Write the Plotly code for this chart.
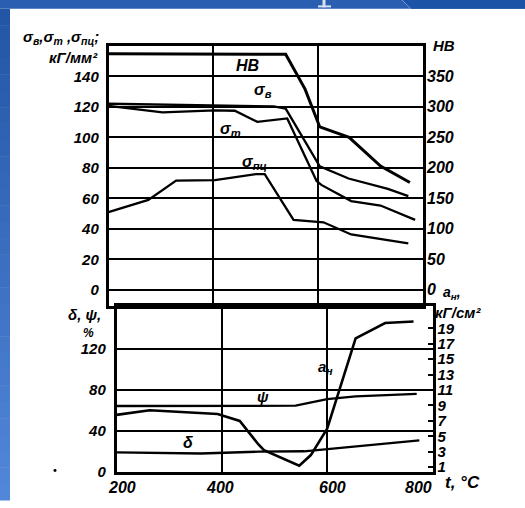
import plotly.graph_objects as go

W, H = 525, 508

# ---------------- data ----------------
# upper panel: strength (kG/mm^2) and hardness HB vs tempering temperature
hb_t = [200, 538, 575, 603, 659, 719, 775]
hb_v = [387, 386, 329, 267, 250, 203, 176]

sb_t = [200, 400, 515, 538, 603, 658, 733, 772]
sb_v = [122, 121, 120.3, 118.8, 81, 73, 66.2, 61.4]

st_t = [200, 303, 403, 441, 484, 541, 597, 606, 663, 719, 785]
st_v = [120.6, 116.3, 117.7, 117.4, 110.1, 112.4, 71.4, 68.8, 58.2, 55.3, 45.9]

spc_t = [200, 276, 329, 403, 482, 498, 553, 610, 663, 772]
spc_v = [51, 59, 71.6, 71.9, 75.9, 75.9, 45.9, 44.3, 36.3, 30.5]

# lower panel: elongation, reduction of area (%) and impact strength a_n (kG/cm^2)
psi_t = [200, 392, 540, 600, 654, 770]
psi_v = [64.4, 64.4, 64.7, 71.2, 73.8, 76.2]

delta_t = [200, 360, 470, 556, 775]
delta_v = [19.2, 18.0, 19.8, 20.2, 30.9]

an_t = [200, 263, 392, 434, 470, 480, 547, 569, 600, 654, 710, 764]
an_v = [7.78, 8.38, 7.9, 6.99, 3.9, 3.2, 1.17, 2.56, 5.99, 17.7, 19.7, 19.9]

x_ticks = [200, 400, 600, 800]
sigma_ticks = [0, 20, 40, 60, 80, 100, 120, 140]
hb_ticks = [0, 50, 100, 150, 200, 250, 300, 350]
pct_ticks = [0, 40, 80, 120]
an_ticks = [1, 3, 5, 7, 9, 11, 13, 15, 17, 19]


def px(x):
    return x / W


def py(y):
    return 1 - y / H


FONT = "Liberation Sans"
ink = "black"
line = dict(color=ink, width=2.3)

fig = go.Figure()
fig.add_trace(go.Scatter(x=hb_t, y=hb_v, xaxis="x", yaxis="y2", mode="lines",
                         line=dict(color=ink, width=3.0)))
fig.add_trace(go.Scatter(x=sb_t, y=sb_v, xaxis="x", yaxis="y", mode="lines", line=line))
fig.add_trace(go.Scatter(x=st_t, y=st_v, xaxis="x", yaxis="y", mode="lines", line=line))
fig.add_trace(go.Scatter(x=spc_t, y=spc_v, xaxis="x", yaxis="y", mode="lines", line=line))
fig.add_trace(go.Scatter(x=psi_t, y=psi_v, xaxis="x2", yaxis="y3", mode="lines", line=line))
fig.add_trace(go.Scatter(x=delta_t, y=delta_v, xaxis="x2", yaxis="y3", mode="lines", line=line))
fig.add_trace(go.Scatter(x=an_t, y=an_v, xaxis="x2", yaxis="y4", mode="lines",
                         line=dict(color=ink, width=2.6)))


def tf(size, weight="bold"):
    return dict(family=FONT, size=size, color=ink, style="italic", weight=weight)


common_x = dict(range=[200, 800], tickvals=[400, 600], showticklabels=False, ticks="",
                showgrid=True, gridcolor=ink, gridwidth=1.6, zeroline=False,
                showline=True, mirror=True, linecolor=ink, linewidth=2.5)

top_bottom_px = 310.5
top_top_px = 46.5
sig_lo = -(top_bottom_px - 294.5) / 1.55

fig.update_layout(
    width=W, height=H, margin=dict(l=0, r=0, t=0, b=0),
    paper_bgcolor="white", plot_bgcolor="rgba(0,0,0,0)", showlegend=False,
    xaxis=dict(domain=[px(108.5), px(423)], anchor="y", **common_x),
    yaxis=dict(domain=[py(top_bottom_px), py(top_top_px)], anchor="x",
               range=[sig_lo, 160], tickvals=sigma_ticks, tickfont=tf(15),
               ticks="", ticklabelstandoff=4,
               showgrid=True, gridcolor=ink, gridwidth=1.6, zeroline=False,
               showline=True, mirror=True, linecolor=ink, linewidth=2.5),
    yaxis2=dict(overlaying="y", side="right", anchor="x",
                range=[sig_lo * 2.5, 400], tickvals=hb_ticks, tickfont=tf(16),
                ticks="", ticklabelstandoff=3, showgrid=False, zeroline=False,
                showline=False),
    xaxis2=dict(domain=[px(116.5), px(432.5)], anchor="y3", **common_x),
    yaxis3=dict(domain=[py(479.5), py(311)], anchor="x2",
                range=[0, 162], tickvals=pct_ticks, tickfont=tf(15),
                ticks="", ticklabelstandoff=5,
                showgrid=True, gridcolor=ink, gridwidth=1.6, zeroline=False,
                showline=True, mirror=True, linecolor=ink, linewidth=2.5),
    yaxis4=dict(overlaying="y3", side="right", anchor="x2",
                range=[0.367, 21.9], tickvals=an_ticks, tickfont=tf(15),
                ticks="inside", ticklen=5, tickwidth=1.6, tickcolor=ink,
                ticklabelstandoff=4, showgrid=False, zeroline=False, showline=False),
)

# x tick labels (placed under the lower panel's temperature scale)
x_shift = {200: 5, 400: -2, 600: 5, 800: -14}
for t in x_ticks:
    fig.add_annotation(x=t, y=0, xref="x2", yref="y3", text=str(t), showarrow=False,
                       yshift=-16, xshift=x_shift[t], font=tf(16))

texts = [
    ("σ<sub>в</sub>,σ<sub>т</sub> ,σ<sub>пц</sub>;", 101, 38, "right", 15),
    ("кГ/мм²", 100, 58, "right", 15),
    ("HB", 431, 46, "left", 15),
    ("δ, ψ,", 103, 320, "right", 15),
    ("%", 96, 338, "right", 12),
    ("a<sub>н</sub>,", 441, 298, "left", 14),
    ("кГ/см²", 433, 317, "left", 15),
    ("t, °C", 443, 490, "left", 17),
    ("HB", 247, 67, "center", 16),
    ("σ<sub>в</sub>", 263, 92, "center", 16),
    ("σ<sub>т</sub>", 230, 132, "center", 16),
    ("σ<sub>пц</sub>", 254, 165, "center", 16),
    ("ψ", 263, 403, "center", 15),
    ("δ", 188, 450, "center", 16),
    ("a<sub>н</sub>", 325, 373, "center", 15),
]
for txt, x, y, anc, sz in texts:
    fig.add_annotation(x=px(x), y=py(y), xref="paper", yref="paper", text=txt,
                       showarrow=False, xanchor=anc, yanchor="middle", font=tf(sz))

# slide background strips (blue frame of the scanned slide)
shapes = []
shapes.append(dict(type="rect", xref="paper", yref="paper", x0=0, x1=1, y0=py(9), y1=1,
                   fillcolor="rgb(42,94,176)", line=dict(width=0), layer="above"))
shapes.append(dict(type="path", xref="paper", yref="paper",
                   path=f"M {px(402)},1 L 1,1 L 1,{py(9)} L {px(411)},{py(9)} Z",
                   fillcolor="rgb(27,83,166)", line=dict(width=0), layer="above"))
shapes.append(dict(type="line", xref="paper", yref="paper", x0=px(402), y0=1,
                   x1=px(411), y1=py(9), line=dict(color="rgb(120,150,205)", width=1),
                   layer="above"))
shapes.append(dict(type="rect", xref="paper", yref="paper", x0=px(318), x1=px(331),
                   y0=py(7.5), y1=py(5.5), fillcolor="rgb(215,225,242)",
                   line=dict(width=0), layer="above"))
shapes.append(dict(type="rect", xref="paper", yref="paper", x0=px(322.5), x1=px(325.5),
                   y0=py(7.5), y1=1, fillcolor="rgb(215,225,242)",
                   line=dict(width=0), layer="above"))
n = 30
c0 = (36, 86, 166)
c1 = (82, 134, 216)
for i in range(n):
    fr = i / (n - 1)
    c = tuple(round(c0[k] + (c1[k] - c0[k]) * fr) for k in range(3))
    ya = 9 + (H - 9) * i / n
    yb = 9 + (H - 9) * (i + 1) / n + 0.5
    shapes.append(dict(type="rect", xref="paper", yref="paper", x0=0, x1=px(10),
                       y0=py(yb), y1=py(ya),
                       fillcolor=f"rgb({c[0]},{c[1]},{c[2]})", line=dict(width=0),
                       layer="above"))
shapes.append(dict(type="circle", xref="paper", yref="paper", x0=px(53.5), x1=px(56.5),
                   y0=py(479.5), y1=py(476.5), fillcolor=ink, line=dict(width=0)))
fig.update_layout(shapes=shapes)

fig.write_html("out.html", config={"displayModeBar": False},
               post_script="document.body.style.margin='0px';"
                           "document.body.style.padding='0px';"
                           "document.body.style.overflow='hidden';")
